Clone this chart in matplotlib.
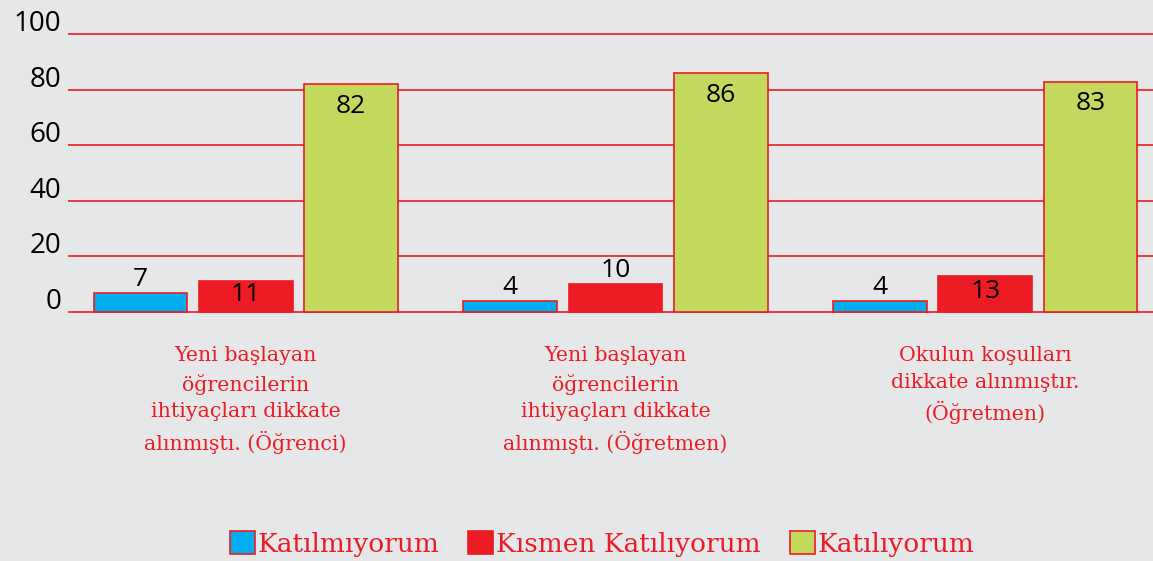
import matplotlib
matplotlib.use("Agg")
import matplotlib.pyplot as plt
import numpy as np
from matplotlib.patches import Patch
from matplotlib.transforms import ScaledTranslation

# data
categories = [
    "Yeni başlayan\nöğrencilerin\nihtiyaçları dikkate\nalınmıştı. (Öğrenci)",
    "Yeni başlayan\nöğrencilerin\nihtiyaçları dikkate\nalınmıştı. (Öğretmen)",
    "Okulun koşulları\ndikkate alınmıştır.\n(Öğretmen)",
]
series_names = ["Katılmıyorum", "Kısmen Katılıyorum", "Katılıyorum"]
katilmiyorum = [7, 4, 4]
kismen = [11, 10, 13]
katiliyorum = [82, 86, 83]
yticks = [0, 20, 40, 60, 80, 100]

BG = "#e6e7e8"
RED = "#ed1c24"
colors = ["#00aeef", RED, "#c3d95e"]

W, H = 1153, 561
fig = plt.figure(figsize=(W / 100, H / 100), dpi=100, facecolor=BG)
# y=0 at 312px, y=100 at 34.3px from top; pad the limits a little so edge gridlines are not clipped
y0px, y100px = 312, 34.3
ppu = (y0px - y100px) / 100
lo, hi = -1.0, 101.0
ax = fig.add_axes([68 / W, (H - y0px - (0 - lo) * ppu) / H, 1 - 68 / W, (hi - lo) * ppu / H])
ax.set_facecolor(BG)

x = np.arange(len(categories))
width = 0.254
step = 0.284
all_series = [katilmiyorum, kismen, katiliyorum]

# where to put each value label: 'above', 'in' (centred) or 'top' (inside near top)
placement = [["above"] * 3, ["in", "above", "in"], ["top"] * 3]

for i, vals in enumerate(all_series):
    pos = x + (i - 1) * step
    ax.bar(pos, vals, width, color=colors[i], edgecolor=RED, linewidth=1.2, zorder=3)
    for p, v, mode in zip(pos, vals, placement[i]):
        if mode == "above":
            ax.text(p, v + 0.3, str(v), ha="center", va="bottom", fontsize=19,
                    family="Open Sans", zorder=4)
        elif mode == "in":
            ax.text(p, v / 2 + 0.8, str(v), ha="center", va="center", fontsize=19,
                    family="Open Sans", zorder=4)
        else:
            ax.text(p, v - 3.5, str(v), ha="center", va="top", fontsize=19,
                    family="Open Sans", zorder=4)

ax.set_xlim(-0.48, 2.453)
ax.set_ylim(lo, hi)
ax.set_yticks(yticks)
ax.set_xticks([])
ax.grid(axis="y", color=RED, linewidth=1.2, zorder=1)
ax.set_axisbelow(True)
for s in ax.spines.values():
    s.set_visible(False)
ax.tick_params(axis="y", length=0, pad=5)
for lab in ax.get_yticklabels():
    lab.set_fontsize(20)
    lab.set_family("Open Sans")
    lab.set_va("baseline")
    lab.set_transform(lab.get_transform() + ScaledTranslation(0, 3 / 100, fig.dpi_scale_trans))

# category labels under groups
for xi, cat in zip(x, categories):
    ax.text(xi, lo - 11.3, cat, ha="center", va="top",
            fontsize=14.8, family="DejaVu Serif", color=RED, linespacing=1.5)

handles = [Patch(facecolor=c, edgecolor=RED, linewidth=1.2) for c in colors]
fig.legend(handles, series_names, loc="center", bbox_to_anchor=(602 / W, 1 - 544 / H),
           ncol=3, frameon=False, handlelength=0.95, handleheight=0.95, handletextpad=0.1,
           columnspacing=1.1, labelcolor=RED, prop={"family": "DejaVu Serif", "size": 19})

fig.savefig("out.png", dpi=100, facecolor=BG)
